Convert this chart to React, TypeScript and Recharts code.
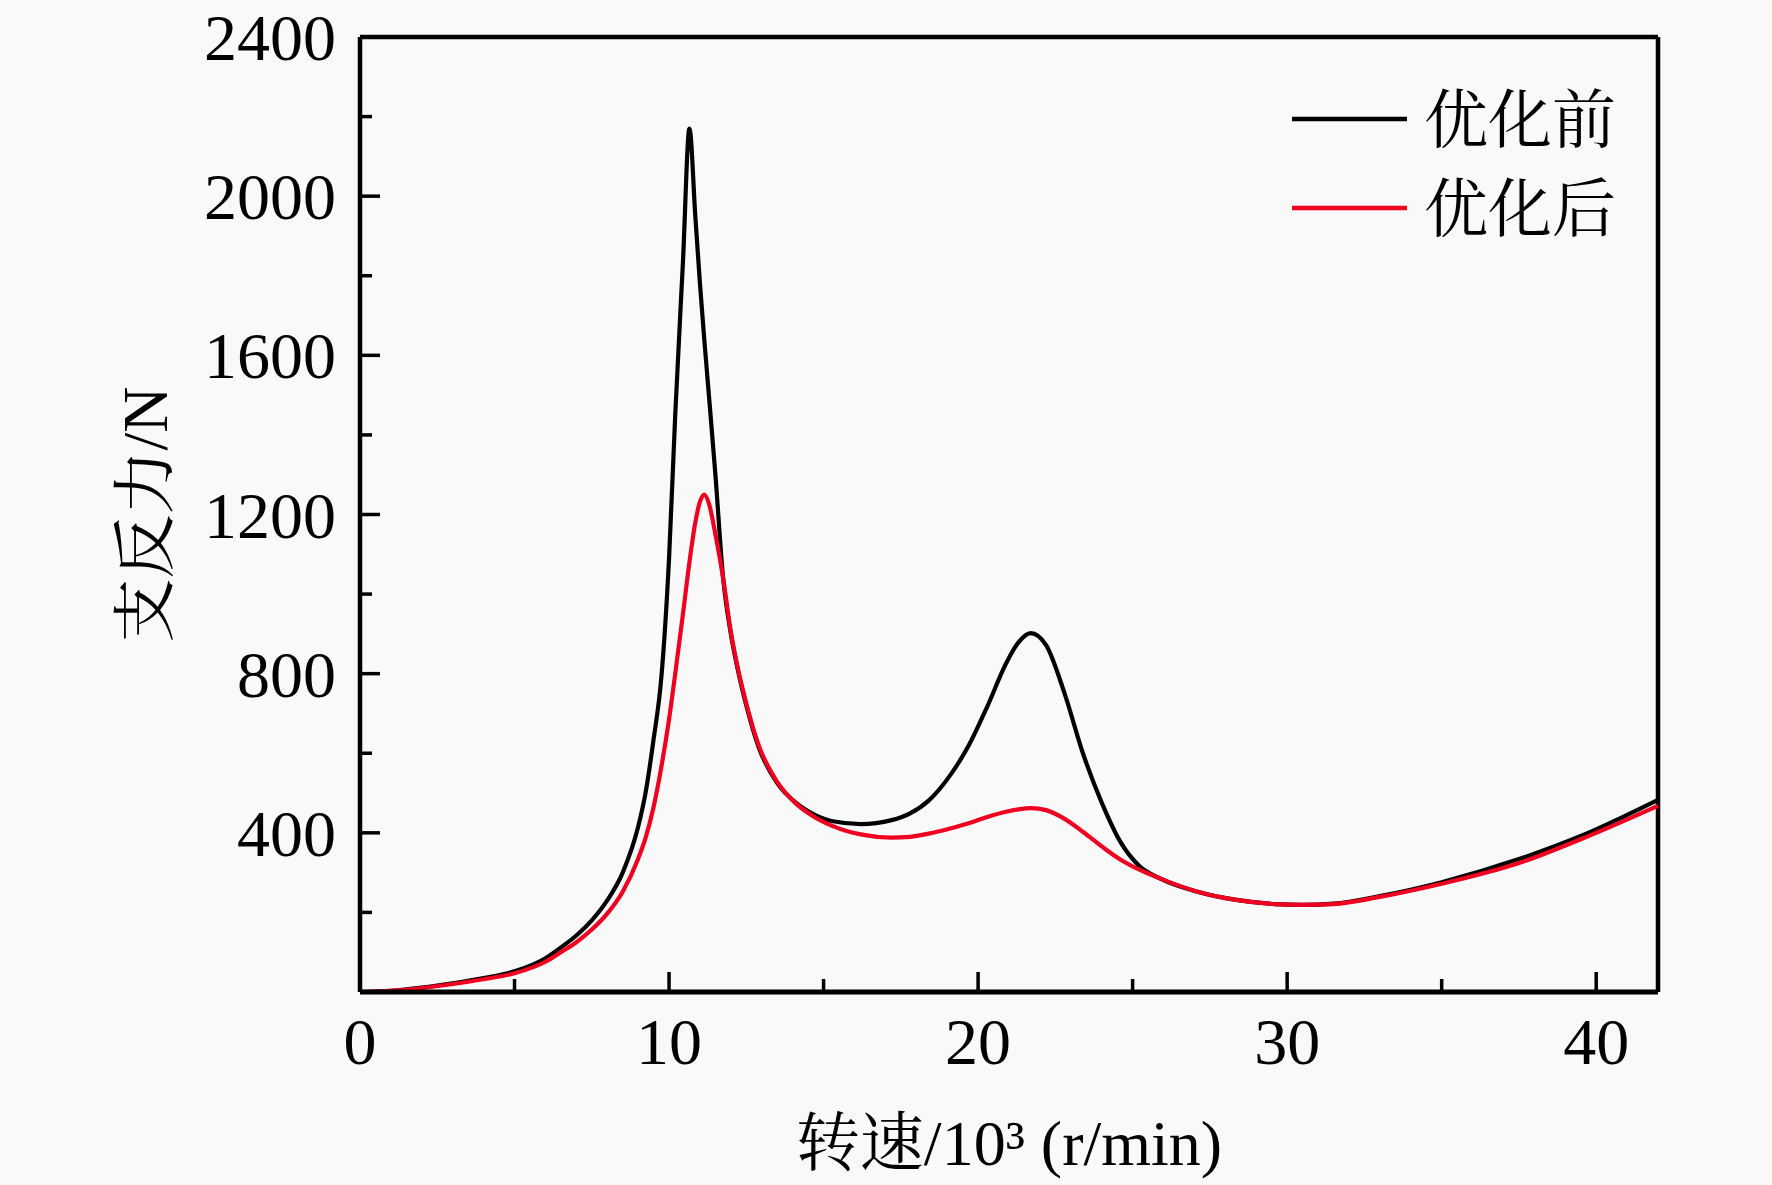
import React from 'react';
import { LineChart, Line, XAxis, YAxis, Legend, Label, ReferenceLine } from 'recharts';

const speed = [0, 1, 2, 3, 4, 5, 6, 6.5, 7, 7.5, 8, 8.5, 9, 9.25, 9.5, 9.75, 10, 10.2, 10.45, 10.66, 10.85, 11, 11.14, 11.3, 11.5, 11.75, 12, 12.25, 12.5, 12.9, 13.5, 14.1, 14.7, 15.3, 16.2, 17.2, 17.8, 18.4, 19.1, 19.7, 20.3, 20.9, 21.3, 21.7, 22.2, 22.8, 23.4, 24, 24.6, 25.2, 25.9, 27.1, 28.3, 29.6, 30.5, 31.5, 33, 35, 37.5, 39.5, 42];

const forceBefore = [0, 3, 11, 22, 35, 52, 85, 112, 142, 180, 230, 300, 415, 505, 635, 790, 1090, 1450, 1835, 2170, 1950, 1780, 1640, 1490, 1300, 1040, 900, 801, 720, 615, 525, 476, 446, 429, 422, 432, 449, 481, 545, 620, 718, 825, 878, 902, 872, 750, 598, 476, 378, 318, 285, 252, 232, 221, 219, 222, 241, 276, 334, 392, 483];

const forceAfter = [0, 3, 10, 20, 32, 47, 76, 100, 125, 157, 197, 252, 335, 390, 465, 565, 685, 800, 950, 1080, 1180, 1232, 1250, 1225, 1150, 1040, 905, 805, 725, 620, 528, 474, 440, 417, 396, 388, 390, 398, 411, 424, 440, 453, 459, 462, 457, 435, 402, 366, 333, 308, 285, 252, 232, 221, 219, 221, 239, 272, 324, 384, 468];

const seriesNames = ['优化前', '优化后'];
const seriesColors = ['#000000', '#f00020'];

const xTicks = [0, 5, 10, 15, 20, 25, 30, 35, 40];
const xLabelTicks = [0, 10, 20, 30, 40];
const yTicks = [200, 400, 600, 800, 1000, 1200, 1400, 1600, 1800, 2000, 2200, 2400];
const yLabelTicks = [400, 800, 1200, 1600, 2000, 2400];
const xMax = 42;
const yMax = 2400;

const xTitle = '转速/10³ (r/min)';
const yTitle = '支反力/N';

const data = speed.map((s, i) => ({ speed: s, before: forceBefore[i], after: forceAfter[i] }));

const FONT = "'Liberation Serif', 'Times New Roman', 'Noto Serif CJK SC', 'Noto Sans CJK SC', serif";

const XTick = (props: any) => {
  const { x, y, payload } = props;
  const v = payload.value;
  const major = xLabelTicks.includes(v);
  return (
    <g>
      <line x1={x} y1={y} x2={x} y2={y - (major ? 20 : 13)} stroke="#000" strokeWidth={3.5} />
      {major && (
        <text x={x} y={y + 72} textAnchor="middle" fontSize={66} fontFamily={FONT} fill="#000">
          {v}
        </text>
      )}
    </g>
  );
};

const YTick = (props: any) => {
  const { x, y, payload } = props;
  const v = payload.value;
  const major = yLabelTicks.includes(v);
  return (
    <g>
      <line x1={x} y1={y} x2={x + (major ? 20 : 12)} y2={y} stroke="#000" strokeWidth={3.5} />
      {major && (
        <text x={x - 24} y={y} dy="0.35em" textAnchor="end" fontSize={66} fontFamily={FONT} fill="#000">
          {v}
        </text>
      )}
    </g>
  );
};

const renderLegend = (props: any) => {
  const payload = props.payload || [];
  return (
    <svg width={400} height={200} style={{ overflow: 'visible' }}>
      {payload.map((item: any, i: number) => {
        const cy = 59 + i * 89;
        return (
          <g key={i}>
            <line x1={12} y1={cy} x2={127} y2={cy} stroke={item.color} strokeWidth={4.5} />
            <text x={144} y={cy} dy="0.36em" fontSize={64} fontFamily={FONT} fill="#000">
              {item.value}
            </text>
          </g>
        );
      })}
    </svg>
  );
};

export default function App() {
  return (
    <div style={{ position: 'absolute', left: 0, top: 0, width: 1772, height: 1185, background: '#f9f9f9' }}>
      <LineChart width={1772} height={1185} data={data} margin={{ top: 37, right: 114, left: 0, bottom: 0 }}>
        <XAxis
          dataKey="speed"
          type="number"
          domain={[0, xMax]}
          ticks={xTicks}
          interval={0}
          tickSize={0}
          tickMargin={0}
          tickLine={false}
          height={193}
          axisLine={{ stroke: '#000', strokeWidth: 5 }}
          tick={<XTick />}
        >
          <Label
            content={(p: any) => {
              const vb = p.viewBox || { x: 360, y: 992, width: 1298 };
              return (
                <text x={vb.x + vb.width / 2} y={vb.y + 173} textAnchor="middle" fontSize={64} fontFamily={FONT} fill="#000">
                  {xTitle}
                </text>
              );
            }}
          />
        </XAxis>
        <YAxis
          type="number"
          domain={[0, yMax]}
          ticks={yTicks}
          interval={0}
          width={360}
          tickSize={0}
          tickMargin={0}
          tickLine={false}
          axisLine={{ stroke: '#000', strokeWidth: 4.5 }}
          tick={<YTick />}
        >
          <Label
            content={(p: any) => {
              const vb = p.viewBox || { x: 0, y: 37, height: 955 };
              const cx = vb.x + 144;
              const cy = vb.y + vb.height / 2;
              return (
                <text
                  x={cx}
                  y={cy}
                  dy="0.36em"
                  textAnchor="middle"
                  fontSize={64}
                  fontFamily={FONT}
                  fill="#000"
                  transform={`rotate(-90, ${cx}, ${cy})`}
                >
                  {yTitle}
                </text>
              );
            }}
          />
        </YAxis>
        <ReferenceLine y={yMax} stroke="#000" strokeWidth={4.5} ifOverflow="visible" />
        <ReferenceLine x={xMax} stroke="#000" strokeWidth={4.5} ifOverflow="visible" />
        <Legend
          layout="vertical"
          align="center"
          verticalAlign="middle"
          wrapperStyle={{ left: 1280, top: 60, width: 400, height: 200 }}
          content={renderLegend}
        />
        <Line
          type="monotone"
          dataKey="before"
          name={seriesNames[0]}
          stroke={seriesColors[0]}
          strokeWidth={4.2}
          dot={false}
          activeDot={false}
          isAnimationActive={false}
        />
        <Line
          type="monotone"
          dataKey="after"
          name={seriesNames[1]}
          stroke={seriesColors[1]}
          strokeWidth={4.2}
          dot={false}
          activeDot={false}
          isAnimationActive={false}
        />
      </LineChart>
    </div>
  );
}
